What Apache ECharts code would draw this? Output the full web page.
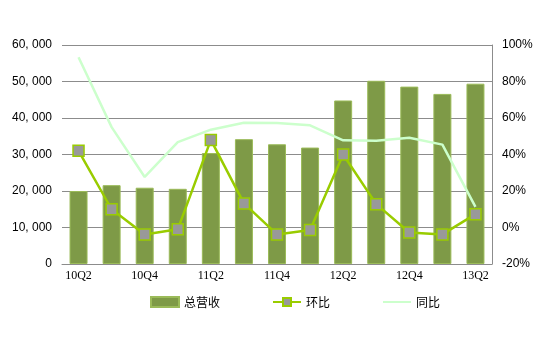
<!DOCTYPE html>
<html>
<head>
<meta charset="utf-8">
<script src="https://cdn.jsdelivr.net/npm/echarts@6/dist/echarts.min.js"></script>
<style>html,body{margin:0;padding:0;background:#fff}#main{width:550px;height:355px}</style>
</head>
<body>
<div id="main"></div>
<script>
/*数据*/
const categories = ['10Q2','10Q3','10Q4','11Q1','11Q2','11Q3','11Q4','12Q1','12Q2','12Q3','12Q4','13Q1','13Q2'];
const revenue = [20000, 21600, 20900, 20600, 30400, 34200, 32800, 31900, 44800, 50200, 48600, 46600, 49400];
const qoq = [42, 10, -3.8, -1, 48, 13.2, -3.8, -1.4, 40, 12.8, -2.7, -3.8, 7.3];
const yoy = [93.3, 55, 27.7, 46.8, 53.6, 57.4, 57.2, 56, 47.8, 47.6, 49.2, 45.4, 11.3];

const chart = echarts.init(document.getElementById('main'));
const gridColor = '#8c8c8c';
const option = {
    animation: false,
    textStyle: {fontFamily: '"Noto Sans CJK SC", "DejaVu Sans", sans-serif'},
    grid: {left: 62, right: 58, top: 45, bottom: 91},
    legend: {
        bottom: 42,
        left: 145,
        itemGap: 52,
        itemWidth: 28,
        itemHeight: 10,
        textStyle: {fontSize: 12, color: '#000'},
        data: [
            {name: '总营收', icon: 'rect'},
            {name: '环比'},
            {name: '同比', itemStyle: {opacity: 0}}
        ]
    },
    xAxis: {
        type: 'category',
        data: categories,
        axisLine: {lineStyle: {color: gridColor}},
        axisTick: {show: false},
        axisLabel: {interval: 1, color: '#000', fontSize: 12, fontFamily: '"Liberation Serif", serif', margin: 6}
    },
    yAxis: [
        {
            type: 'value', min: 0, max: 60000, interval: 10000,
            axisLine: {show: false},
            axisTick: {show: false},
            splitLine: {lineStyle: {color: gridColor}},
            axisLabel: {
                color: '#000', fontSize: 12, margin: 10, fontFamily: '"Liberation Sans", sans-serif',
                formatter: v => v === 0 ? '0' : String(v / 1000) + ', 000'
            }
        },
        {
            type: 'value', min: -20, max: 100, interval: 20,
            axisLine: {show: true, lineStyle: {color: gridColor}},
            axisTick: {show: false},
            splitLine: {show: false},
            axisLabel: {color: '#000', fontSize: 12, margin: 10, fontFamily: '"Liberation Sans", sans-serif', formatter: '{value}%'}
        }
    ],
    series: [
        {
            name: '总营收', type: 'bar', data: revenue, barWidth: 18,
            itemStyle: {color: '#7e9a47', borderColor: '#9bbb59', borderWidth: 1}
        },
        {
            name: '环比', type: 'line', yAxisIndex: 1, data: qoq,
            symbol: 'rect', symbolSize: 11,
            lineStyle: {color: '#99cc00', width: 2.5},
            itemStyle: {color: '#999999', borderColor: '#99cc00', borderWidth: 1.5}
        },
        {
            name: '同比', type: 'line', yAxisIndex: 1, data: yoy,
            symbol: 'none',
            lineStyle: {color: '#ccffcc', width: 2.5},
            itemStyle: {color: '#ccffcc'}
        }
    ]
};
chart.setOption(option);
</script>
</body>
</html>
